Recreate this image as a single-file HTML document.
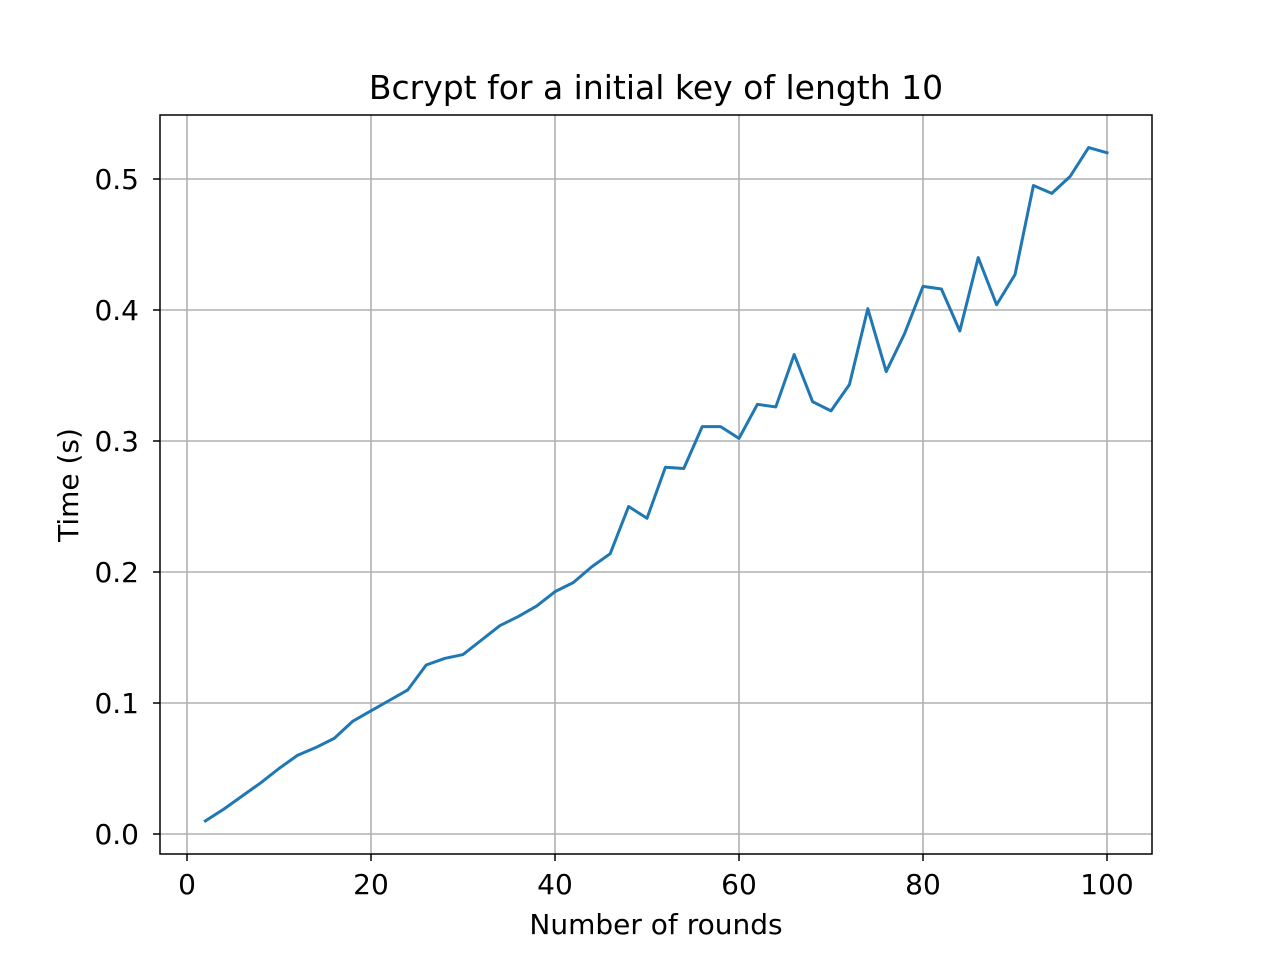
<!DOCTYPE html>
<html><head><meta charset="utf-8"><style>
body{margin:0;background:#fff;}
svg text{font-family:"DejaVu Sans","Liberation Sans",sans-serif;fill:#000;}
</style></head><body>
<svg id="chart" width="1280" height="960" xmlns="http://www.w3.org/2000/svg">
<rect width="1280" height="960" fill="#fff"/>
<g id="grid"></g>
<g id="ticks"></g>
<polyline id="line" fill="none" stroke="#1f77b4" stroke-width="3" stroke-linejoin="round" stroke-linecap="square"/>
<rect x="160" y="115" width="992" height="739" fill="none" stroke="#000" stroke-width="1.5"/>
<text x="656" y="99" font-size="33" text-anchor="middle">Bcrypt for a initial key of length 10</text>
<text x="656" y="934" font-size="28" text-anchor="middle">Number of rounds</text>
<text transform="translate(78,485) rotate(-90)" font-size="28" text-anchor="middle">Time (s)</text>
</svg>
<script>
const xValues=[2,4,6,8,10,12,14,16,18,20,22,24,26,28,30,32,34,36,38,40,42,44,46,48,50,52,54,56,58,60,62,64,66,68,70,72,74,76,78,80,82,84,86,88,90,92,94,96,98,100];
const timeValues=[0.010,0.019,0.029,0.039,0.050,0.060,0.066,0.073,0.086,0.094,0.102,0.110,0.129,0.134,0.137,0.148,0.159,0.166,0.174,0.185,0.192,0.204,0.214,0.250,0.241,0.280,0.279,0.311,0.311,0.302,0.328,0.326,0.366,0.330,0.323,0.343,0.401,0.353,0.382,0.418,0.416,0.384,0.440,0.404,0.427,0.495,0.489,0.502,0.524,0.520];
const xTicks=[0,20,40,60,80,100];
const yTicks=[0.0,0.1,0.2,0.3,0.4,0.5];
const yTickLabels=["0.0","0.1","0.2","0.3","0.4","0.5"];
const X=v=>187+v*9.2, Y=v=>834-v*1310;
const ns="http://www.w3.org/2000/svg";
const grid=document.getElementById('grid'), ticks=document.getElementById('ticks');
function mk(tag,attrs,parent){const e=document.createElementNS(ns,tag);for(const k in attrs)e.setAttribute(k,attrs[k]);parent.appendChild(e);return e;}
xTicks.forEach(v=>{
  const g=mk('line',{x1:X(v),x2:X(v),y1:115,y2:854,stroke:'#b0b0b0','stroke-width':1.6},grid);
  
  
  mk('line',{x1:X(v),x2:X(v),y1:854,y2:861,stroke:'#000','stroke-width':1.5},ticks);
  const t=mk('text',{x:X(v),y:894,'font-size':28,'text-anchor':'middle'},ticks);
  t.textContent=v;
  
  
});
yTicks.forEach((v,i)=>{
  const g=mk('line',{x1:160,x2:1152,y1:Y(v),y2:Y(v),stroke:'#b0b0b0','stroke-width':1.6},grid);
  
  
  mk('line',{x1:153,x2:160,y1:Y(v),y2:Y(v),stroke:'#000','stroke-width':1.5},ticks);
  const t=mk('text',{x:139,y:Y(v)+10,'font-size':28,'text-anchor':'end'},ticks);
  t.textContent=yTickLabels[i];
  
  
});
document.getElementById('line').setAttribute('points',xValues.map((x,i)=>X(x)+','+Y(timeValues[i])).join(' '));
</script>
</body></html>
